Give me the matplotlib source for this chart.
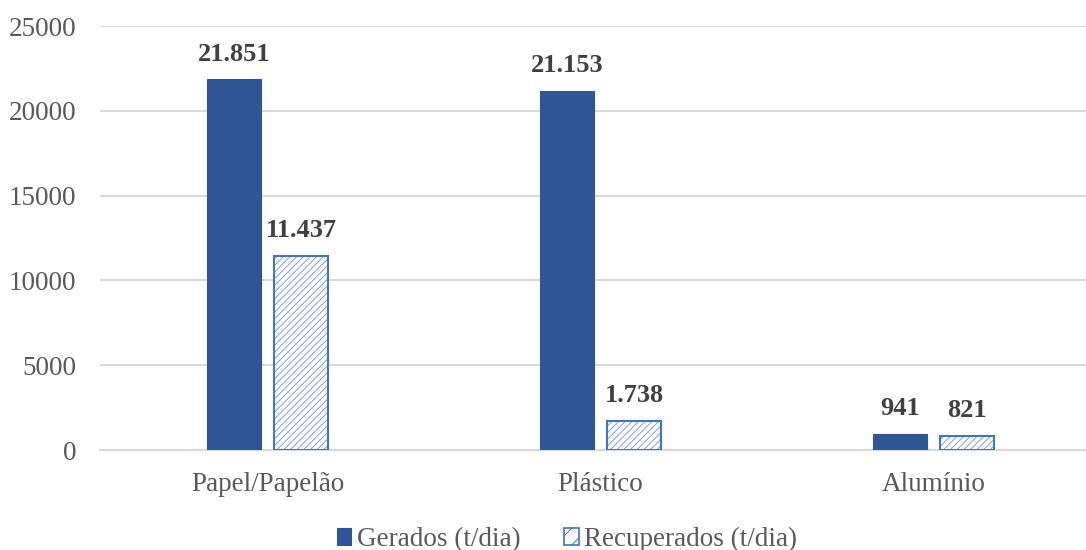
import matplotlib
matplotlib.use("Agg")
import matplotlib.pyplot as plt
from matplotlib.patches import Patch
import numpy as np

categories = ["Papel/Papelão", "Plástico", "Alumínio"]
gerados = [21851, 21153, 941]
recuperados = [11437, 1738, 821]
series_names = ["Gerados (t/dia)", "Recuperados (t/dia)"]
y_ticks = [0, 5000, 10000, 15000, 20000, 25000]

plt.rcParams["font.family"] = ["Liberation Serif", "DejaVu Serif"]
plt.rcParams["hatch.linewidth"] = 0.7

dark = "#2F5597"
light = "#4472C4"
hatch_col = "#7F9FDB"
label_col = "#404040"
tick_col = "#595959"

fig = plt.figure(figsize=(10.86, 5.5), dpi=100)
ax = fig.add_axes([0.092, 0.1818, 0.908, 0.7709])

x = np.arange(len(categories))
w = 0.162
off = 0.101
b1 = ax.bar(x - off, gerados, w, color=dark, edgecolor=dark, linewidth=0.8,
            zorder=3)
# hatched fill, then the solid outline on top
ax.bar(x + off, recuperados, w, facecolor="white", edgecolor=hatch_col,
       hatch="/////", linewidth=0, zorder=3)
b2 = ax.bar(x + off, recuperados, w, fill=False, edgecolor=light,
            linewidth=1.5, zorder=4)

def fmt(v):
    return f"{v:,}".replace(",", ".")

for bars, vals in ((b1, gerados), (b2, recuperados)):
    for r, v in zip(bars, vals):
        ax.annotate(fmt(v), (r.get_x() + r.get_width() / 2, v),
                    xytext=(0, 10), textcoords="offset points",
                    ha="center", va="bottom", fontsize=19,
                    fontweight="bold", color=label_col)

ax.set_xlim(-0.503, 2.458)
ax.set_ylim(0, 25000)
ax.set_yticks(y_ticks)
ax.set_yticklabels([str(t) for t in y_ticks])
ax.set_xticks(x)
ax.set_xticklabels(categories)
ax.tick_params(axis="y", length=0, pad=17, labelsize=19.5, labelcolor=tick_col)
ax.tick_params(axis="x", length=0, pad=16, labelsize=19.5, labelcolor=tick_col)
ax.grid(axis="y", color="#D9D9D9", linewidth=1.5, zorder=0)
ax.set_axisbelow(True)
for s in ("left", "right", "top"):
    ax.spines[s].set_visible(False)
ax.spines["bottom"].set_color("#D9D9D9")
ax.spines["bottom"].set_linewidth(1.5)

h1 = Patch(facecolor=dark, edgecolor=dark, linewidth=0.8)
h2 = Patch(facecolor="white", edgecolor=light, hatch="//", linewidth=1.2)
fig.legend(handles=[h1, h2], labels=series_names, loc="lower center",
           bbox_to_anchor=(0.522, -0.048), ncol=2, frameon=False,
           fontsize=19.5, handlelength=0.55, handleheight=0.55,
           handletextpad=0.2, columnspacing=1.6, labelcolor=tick_col)

fig.savefig("out.png", dpi=100)
